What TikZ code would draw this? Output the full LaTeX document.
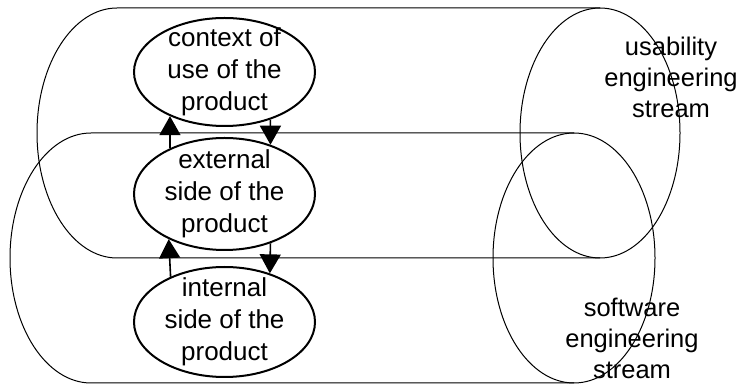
\documentclass[tikz,border=0pt]{standalone}
\usepackage{fontspec}
\setmainfont{Liberation Sans}
\usetikzlibrary{arrows.meta,shapes.geometric}
\begin{document}
\begin{tikzpicture}[x=1pt,y=1pt,
  cyl/.style={line width=1pt},
  phase/.style={ellipse,draw,line width=2pt,inner sep=0pt,minimum width=181pt},
  phasetext/.style={align=center,font=\fontsize{26}{32}\selectfont},
  streamtext/.style={align=center,font=\fontsize{25.5}{31}\selectfont},
  flow/.style={line width=1.6pt,-{Triangle[width=21pt,length=19pt]}}]
\useasboundingbox (0,0) rectangle (744,385);
% usability engineering stream (upper cylinder)
\draw[cyl] (600,377) -- (117,377)
  arc[start angle=90,end angle=270,x radius=80,y radius=125] -- (600,127);
\draw[cyl] (600,252) ellipse [x radius=80,y radius=125];
% software engineering stream (lower cylinder)
\draw[cyl] (574,252) -- (91,252)
  arc[start angle=90,end angle=270,x radius=81,y radius=125] -- (574,2);
\draw[cyl] (574,127) ellipse [x radius=81,y radius=125];
% the three views of the product
\node[phase,minimum height=108pt] (ctx) at (224.5,313) {};
\node[phase,minimum height=112pt] (ext) at (224.5,191) {};
\node[phase,minimum height=110pt] (int) at (224.5,63) {};
\node[phasetext] (ctxt) at (ctx.center) {context of\\use of the\\product};
\node[phasetext] (extt) at (ext.center) {external\\side of the\\product};
\node[phasetext] (intt) at (int.center) {internal\\side of the\\product};
% stream labels
\node[streamtext] (ue) at (671,308) {usability\\engineering\\stream};
\node[streamtext] (se) at (632,47) {software\\engineering\\stream};
% links between the views
\draw[flow] (ext.140) -- (ctx.219.2);
\draw[flow] (ctx.-46.6) -- (ext.47.6);
\draw[flow] (int.140.3) -- (ext.219.8);
\draw[flow] (ext.-47.6) -- (int.47.1);
\end{tikzpicture}
\end{document}
